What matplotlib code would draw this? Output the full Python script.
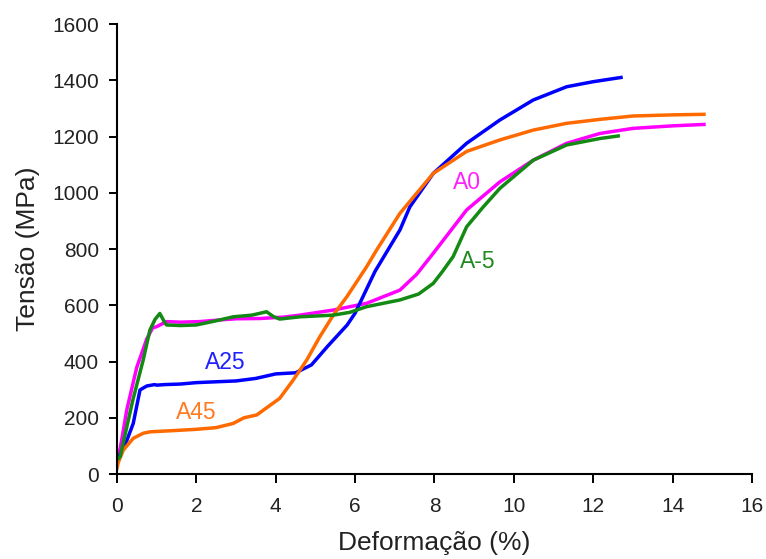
import matplotlib
matplotlib.use("Agg")
import matplotlib.pyplot as plt

# Stress-strain curves, strain in %, stress in MPa
a25_x = [0, 0.08, 0.25, 0.41, 0.58, 0.75, 0.95, 1.0, 1.2, 1.6, 2.0, 2.5, 3.0, 3.5, 4.0, 4.5, 4.9,
         5.3, 5.8, 6.0, 6.5, 7.13, 7.38, 7.97, 8.81, 9.65, 10.49, 11.33, 12.0, 12.7]
a25_y = [50, 70, 120, 180, 299, 313, 318, 316, 318, 320, 325, 328, 331, 340, 356, 360, 388,
         453, 530, 572, 720, 868, 950, 1069, 1176, 1259, 1330, 1377, 1395, 1410]

a45_x = [0, 0.03, 0.16, 0.41, 0.66, 0.83, 1.5, 2.0, 2.5, 2.93, 3.2, 3.52, 4.1, 4.44, 4.78, 5.11,
         5.45, 5.79, 6.29, 6.54, 7.13, 7.97, 8.81, 9.65, 10.49, 11.33, 12.17, 13.0, 14.0, 14.79]
a45_y = [20, 40, 85, 127, 145, 150, 155, 159, 165, 180, 200, 210, 269, 334, 405, 488,
         565, 630, 737, 796, 927, 1069, 1147, 1188, 1223, 1247, 1261, 1273, 1277, 1279]

a0_x = [0, 0.08, 0.25, 0.5, 0.75, 0.9, 1.0, 1.25, 1.6, 2.09, 2.6, 3.0, 3.6, 4.2, 4.61, 5.45,
        6.29, 7.13, 7.55, 7.97, 8.81, 9.65, 10.49, 11.33, 12.17, 13.0, 14.0, 14.79]
a0_y = [70, 90, 230, 380, 480, 520, 524, 542, 540, 542, 548, 552, 553, 558, 565, 583,
        607, 654, 710, 785, 939, 1039, 1116, 1176, 1211, 1229, 1238, 1243]

am5_x = [0, 0.08, 0.4, 0.66, 0.83, 0.96, 1.08, 1.18, 1.25, 1.6, 2.0, 2.5, 2.93, 3.4, 3.77,
         3.94, 4.1, 4.61, 5.45, 5.87, 6.29, 7.13, 7.6, 7.97, 8.2, 8.47, 8.81, 9.23, 9.65,
         10.49, 11.33, 12.17, 12.63]
am5_y = [50, 62, 263, 405, 512, 550, 571, 545, 530, 528, 530, 545, 559, 565, 577,
         560, 551, 559, 565, 575, 595, 619, 640, 678, 720, 773, 879, 950, 1016,
         1116, 1170, 1193, 1202]

x_ticks = [0, 2, 4, 6, 8, 10, 12, 14, 16]
y_ticks = [0, 200, 400, 600, 800, 1000, 1200, 1400, 1600]

plt.rcParams['font.family'] = ['Liberation Sans', 'DejaVu Sans']

fig = plt.figure(figsize=(7.66, 5.59), dpi=100)
ax = fig.add_axes([0.1527, 0.152, 0.829, 0.805])

lw = 2.5
ax.plot(a0_x, a0_y, color='#FF00FF', lw=lw)
ax.plot(a25_x, a25_y, color='#0000FF', lw=lw)
ax.plot(a45_x, a45_y, color='#FF6A00', lw=lw)
ax.plot(am5_x, am5_y, color='#138A13', lw=lw)

ax.text(2.72, 395, 'A25', color='#2020FF', fontsize=16.5, ha='center', va='center')
ax.text(2.0, 220, 'A45', color='#FF7A20', fontsize=16.5, ha='center', va='center')
ax.text(8.82, 1038, 'A0', color='#FF20FF', fontsize=16.5, ha='center', va='center')
ax.text(9.1, 757, 'A-5', color='#208A20', fontsize=16.5, ha='center', va='center')

ax.set_xlim(0, 16)
ax.set_ylim(0, 1600)
ax.set_xticks(x_ticks)
ax.set_yticks(y_ticks)
ax.tick_params(axis='both', direction='out', width=1.4, labelsize=15, labelcolor='#222222')
ax.tick_params(axis='x', length=6.5, pad=10)
ax.tick_params(axis='y', length=5.5, pad=7.5)
ax.spines['top'].set_visible(False)
ax.spines['right'].set_visible(False)
ax.spines['left'].set_linewidth(1.5)
ax.spines['bottom'].set_linewidth(1.5)

ax.set_xlabel('Deformação (%)', fontsize=19, color='#222222')
ax.set_ylabel('Tensão (MPa)', fontsize=19, color='#222222')
ax.xaxis.set_label_coords(0.5, -0.153)
ax.xaxis.label.set_verticalalignment('center')
ax.yaxis.set_label_coords(-0.140, 0.5)
ax.yaxis.label.set_verticalalignment('center')

fig.savefig('out.png', dpi=100)
